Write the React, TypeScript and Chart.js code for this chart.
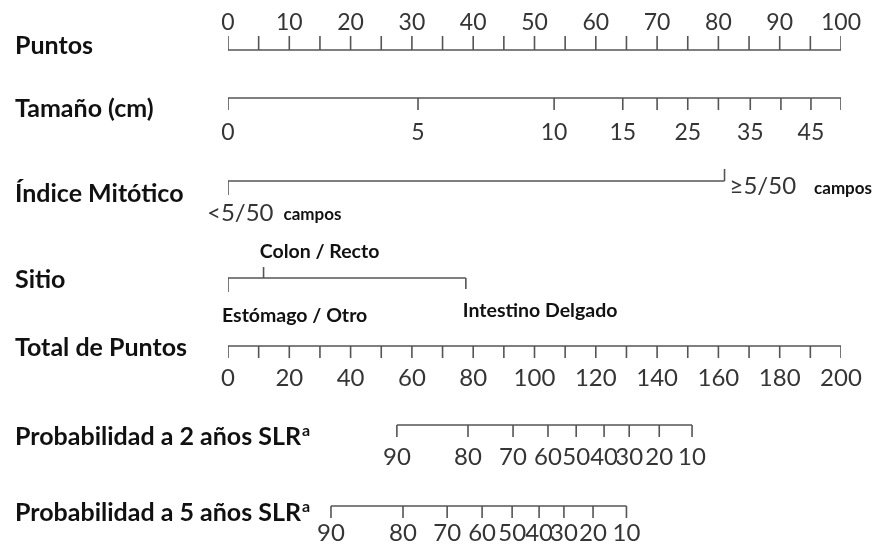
import React, { useEffect, useRef } from "react";
import { Chart, registerables } from "chart.js";

Chart.register(...registerables);

// ---- data ----
const PUNTOS_TICKS = [0, 5, 10, 15, 20, 25, 30, 35, 40, 45, 50, 55, 60, 65, 70, 75, 80, 85, 90, 95, 100];
const PUNTOS_LABELS = [0, 10, 20, 30, 40, 50, 60, 70, 80, 90, 100];

const TAMANO_CM = [0, 5, 10, 15, 20, 25, 30, 35, 40, 45, 50];
const TAMANO_POINTS = [0, 31, 53.2, 64.4, 70, 75, 80, 85.2, 90.2, 95.1, 100];
const TAMANO_LABELED = [0, 5, 10, 15, 25, 35, 45];

const MITOTICO_CATS = ["<5/50", "≥5/50"];
const MITOTICO_POINTS = [0, 81];

const SITIO_CATS = ["Estómago / Otro", "Colon / Recto", "Intestino Delgado"];
const SITIO_POINTS = [0, 5.8, 38.8];

const TOTAL_TICKS = [0, 10, 20, 30, 40, 50, 60, 70, 80, 90, 100, 110, 120, 130, 140, 150, 160, 170, 180, 190, 200];
const TOTAL_LABELS = [0, 20, 40, 60, 80, 100, 120, 140, 160, 180, 200];

const PROB_LABELS = [90, 80, 70, 60, 50, 40, 30, 20, 10];
const PROB2_TOTAL = [55.1, 78.3, 93, 104.4, 113.6, 122.7, 130.9, 140.7, 151.4];
const PROB5_TOTAL = [33.6, 57.1, 71.5, 82.9, 92.7, 101.5, 109.6, 119.1, 130];

const ROW_NAMES = ["Puntos", "Tamaño (cm)", "Índice Mitótico", "Sitio", "Total de Puntos", "Probabilidad a 2 años SLR", "Probabilidad a 5 años SLR"];

// ---- layout (pixel rows, in y-scale units) ----
const ROW_Y = [50, 98, 181, 278, 346, 425, 506];
const NAME_BASE = [54, 117, 202, 288, 356, 445, 521];

const LINE_COLOR = "#555555";
const TICK_COLOR = "#353535";
const NAME_FONT = "bold 25px Lato";

type Pt = { x: number; y: number | null };

function axisLine(xs: number[], y: number, axis: string) {
  return {
    type: "line" as const,
    xAxisID: axis,
    data: [
      { x: Math.min(...xs), y },
      { x: Math.max(...xs), y },
    ],
    borderColor: LINE_COLOR,
    borderWidth: 1.6,
    pointRadius: 0,
    fill: false,
  };
}

function tickSet(xs: number[], y: number, lens: number[], axis: string) {
  const data: Pt[] = [];
  xs.forEach((v, i) => {
    data.push({ x: v, y });
    data.push({ x: v, y: y + lens[i] });
    data.push({ x: v, y: null });
  });
  return {
    type: "line" as const,
    xAxisID: axis,
    data,
    borderColor: LINE_COLOR,
    borderWidth: 1.6,
    pointRadius: 0,
    spanGaps: false,
    fill: false,
  };
}

const textPlugin = {
  id: "nomoText",
  afterDatasetsDraw(chart: any) {
    const ctx = chart.ctx as CanvasRenderingContext2D;
    const x = chart.scales.x;
    const x2 = chart.scales.x2;
    const y = chart.scales.y;
    ctx.save();
    // row names
    ctx.fillStyle = "#111111";
    ctx.font = NAME_FONT;
    ctx.textAlign = "left";
    ctx.textBaseline = "alphabetic";
    ROW_NAMES.forEach((n, i) => {
      ctx.fillText(n, 15, y.getPixelForValue(NAME_BASE[i]));
      if (i >= 5) {
        const w = ctx.measureText(n).width;
        ctx.font = "bold 16px Lato";
        ctx.fillText("a", 15 + w + 1, y.getPixelForValue(NAME_BASE[i] - 9));
        ctx.font = NAME_FONT;
      }
    });

    ctx.fillStyle = TICK_COLOR;
    ctx.textAlign = "center";
    ctx.font = "23px Lato";
    // Puntos
    PUNTOS_LABELS.forEach((v) => ctx.fillText(String(v), x.getPixelForValue(v), y.getPixelForValue(30)));
    // Tamaño
    TAMANO_CM.forEach((c, i) => {
      if (TAMANO_LABELED.includes(c)) ctx.fillText(String(c), x.getPixelForValue(TAMANO_POINTS[i]), y.getPixelForValue(140));
    });
    ctx.font = "24px Lato";
    // Total
    TOTAL_LABELS.forEach((v) => ctx.fillText(String(v), x2.getPixelForValue(v), y.getPixelForValue(386)));
    // Prob
    PROB_LABELS.forEach((p, i) => {
      ctx.fillText(String(p), x2.getPixelForValue(PROB2_TOTAL[i]), y.getPixelForValue(465));
      ctx.fillText(String(p), x2.getPixelForValue(PROB5_TOTAL[i]), y.getPixelForValue(541));
    });

    // Mitótico
    ctx.font = "24px Lato";
    ctx.textAlign = "left";
    const x0 = x.getPixelForValue(MITOTICO_POINTS[0]) - 21;
    ctx.fillText(MITOTICO_CATS[0], x0, y.getPixelForValue(221));
    const w0 = ctx.measureText(MITOTICO_CATS[0]).width;
    const x1 = x.getPixelForValue(MITOTICO_POINTS[1]) + 5;
    ctx.fillText(MITOTICO_CATS[1], x1, y.getPixelForValue(194));
    const w1 = ctx.measureText(MITOTICO_CATS[1]).width;
    ctx.fillStyle = "#111111";
    ctx.font = "bold 17px Lato";
    ctx.fillText("campos", x0 + w0 + 10, y.getPixelForValue(220));
    ctx.fillText("campos", x1 + w1 + 18, y.getPixelForValue(194));

    // Sitio
    ctx.font = "bold 19.5px Lato";
    ctx.textAlign = "left";
    ctx.fillText(SITIO_CATS[0], x.getPixelForValue(SITIO_POINTS[0]) - 6, y.getPixelForValue(322));
    ctx.textAlign = "center";
    ctx.fillText(SITIO_CATS[1], x.getPixelForValue(SITIO_POINTS[1]) + 56, y.getPixelForValue(258));
    ctx.textAlign = "left";
    ctx.fillText(SITIO_CATS[2], x.getPixelForValue(SITIO_POINTS[2]) - 3, y.getPixelForValue(317));
    ctx.restore();
  },
};

export default function App() {
  const ref = useRef<HTMLCanvasElement | null>(null);
  useEffect(() => {
    document.body.style.margin = "0";
    if (!ref.current) return;
    const r = ROW_Y;
    const datasets: any[] = [
      axisLine(PUNTOS_TICKS, r[0], "x"),
      tickSet(PUNTOS_TICKS, r[0], PUNTOS_TICKS.map(() => -14), "x"),
      axisLine(TAMANO_POINTS, r[1], "x"),
      tickSet(TAMANO_POINTS, r[1], TAMANO_POINTS.map(() => 12), "x"),
      axisLine(MITOTICO_POINTS, r[2], "x"),
      tickSet(MITOTICO_POINTS, r[2], [14, -12], "x"),
      axisLine(SITIO_POINTS, r[3], "x"),
      tickSet(SITIO_POINTS, r[3], [14, -11, 11], "x"),
      axisLine(TOTAL_TICKS, r[4], "x2"),
      tickSet(TOTAL_TICKS, r[4], TOTAL_TICKS.map(() => 12), "x2"),
      axisLine(PROB2_TOTAL, r[5], "x2"),
      tickSet(PROB2_TOTAL, r[5], PROB2_TOTAL.map(() => 12), "x2"),
      axisLine(PROB5_TOTAL, r[6], "x2"),
      tickSet(PROB5_TOTAL, r[6], PROB5_TOTAL.map(() => 12), "x2"),
    ];
    const chart = new Chart(ref.current, {
      type: "line",
      data: { datasets },
      options: {
        animation: false,
        responsive: false,
        layout: { padding: { left: 228, right: 44, top: 0, bottom: 0 } },
        plugins: { legend: { display: false }, tooltip: { enabled: false } },
        scales: {
          x: { type: "linear", min: 0, max: 100, display: false },
          x2: { type: "linear", min: 0, max: 200, display: false },
          y: { type: "linear", min: 0, max: 550, reverse: true, display: false },
        },
      },
      plugins: [textPlugin],
    });
    return () => chart.destroy();
  }, []);
  return <canvas ref={ref} width={885} height={550} style={{ display: "block", background: "#fff" }} />;
}
